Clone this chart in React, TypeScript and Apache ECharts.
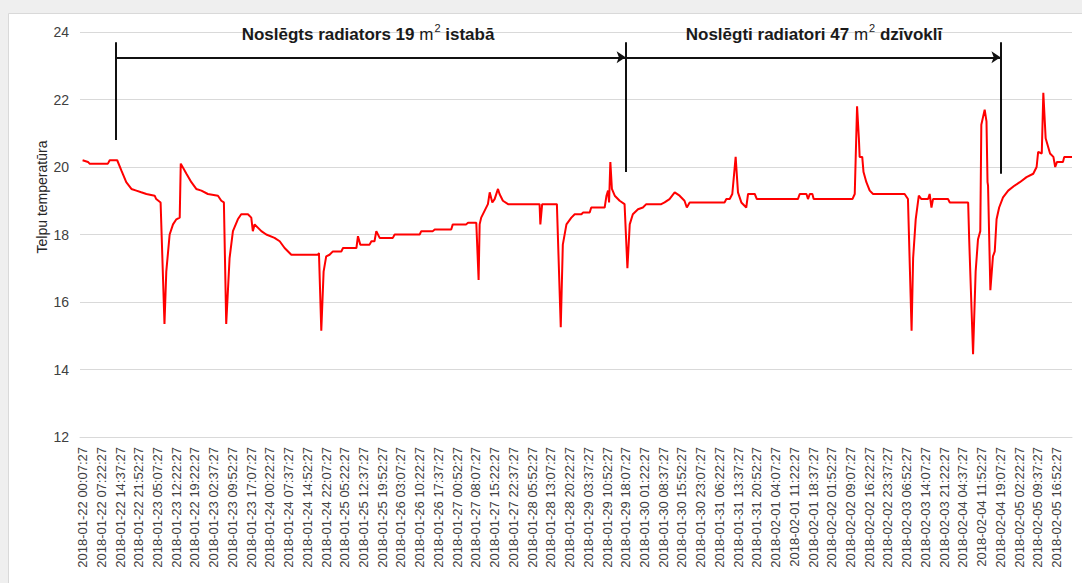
import React, { useEffect, useRef } from "react";
import * as echarts from "echarts";

const xLabels = [
  "2018-01-22 00:07:27", "2018-01-22 07:22:27", "2018-01-22 14:37:27", "2018-01-22 21:52:27",
  "2018-01-23 05:07:27", "2018-01-23 12:22:27", "2018-01-22 19:22:27", "2018-01-23 02:37:27",
  "2018-01-23 09:52:27", "2018-01-23 17:07:27", "2018-01-24 00:22:27", "2018-01-24 07:37:27",
  "2018-01-24 14:52:27", "2018-01-24 22:07:27", "2018-01-25 05:22:27", "2018-01-25 12:37:27",
  "2018-01-25 19:52:27", "2018-01-26 03:07:27", "2018-01-26 10:22:27", "2018-01-26 17:37:27",
  "2018-01-27 00:52:27", "2018-01-27 08:07:27", "2018-01-27 15:22:27", "2018-01-27 22:37:27",
  "2018-01-28 05:52:27", "2018-01-28 13:07:27", "2018-01-28 20:22:27", "2018-01-29 03:37:27",
  "2018-01-29 10:52:27", "2018-01-29 18:07:27", "2018-01-30 01:22:27", "2018-01-30 08:37:27",
  "2018-01-30 15:52:27", "2018-01-30 23:07:27", "2018-01-31 06:22:27", "2018-01-31 13:37:27",
  "2018-01-31 20:52:27", "2018-02-01 04:07:27", "2018-02-01 11:22:27", "2018-02-01 18:37:27",
  "2018-02-02 01:52:27", "2018-02-02 09:07:27", "2018-02-02 16:22:27", "2018-02-02 23:37:27",
  "2018-02-03 06:52:27", "2018-02-03 14:07:27", "2018-02-03 21:22:27", "2018-02-04 04:37:27",
  "2018-02-04 11:52:27", "2018-02-04 19:07:27", "2018-02-05 02:22:27", "2018-02-05 09:37:27",
  "2018-02-05 16:52:27",
];

// hours since 2018-01-22 00:07:27
const hours = [
  0, 2.1, 2.7, 9.8, 10.5, 13.4, 15.0, 16.9, 18.9, 20.8, 22.7, 24.7, 27.9, 28.5, 30.2,
  31.7, 32.4, 33.7, 35.0, 36.3, 37.6, 38.0, 40.2, 42.1, 44.0, 46.0, 48.5, 52.4, 53.7, 54.7,
  55.6, 56.9, 58.2, 60.1, 61.4, 64.0, 65.3, 65.9, 66.6, 69.2, 71.1, 74.3, 76.3, 78.2, 80.8,
  91.1, 91.5, 92.4, 93.3, 94.3, 95.6, 96.9, 100.2, 100.8, 106.0, 106.6, 107.5, 111.1, 111.8, 113.0,
  113.7, 115.0, 120.1, 120.8, 130.5, 131.1, 135.6, 136.3, 142.7, 143.3, 148.5, 149.2, 152.4, 153.3, 153.7,
  154.3, 155.6, 156.9, 157.6, 158.6, 159.5, 160.8, 161.4, 162.7, 164.7, 176.9, 177.2, 177.9, 183.6, 185.1,
  185.9, 187.3, 189.2, 190.5, 193.1, 193.7, 196.3, 196.9, 202.1, 202.8, 203.4, 203.8, 204.3, 204.9, 206.0,
  207.9, 209.8, 210.9, 211.8, 213.0, 215.0, 216.9, 218.2, 224.0, 225.3, 227.2, 229.2, 231.1, 233.0, 233.9,
  235.0, 248.5, 249.2, 250.5, 251.5, 252.8, 253.7, 255.0, 256.9, 257.6, 260.2, 261.0, 276.9, 277.6, 280.2,
  280.8, 281.5, 282.5, 283.0, 298.0, 298.9, 299.8, 300.5, 300.8, 301.8, 302.3, 303.4, 304.7, 306.0, 318.2,
  319.5, 320.9, 321.5, 322.5, 323.7, 324.7, 327.3, 327.9, 328.6, 329.2, 335.0, 335.7, 342.8, 343.2, 344.7,
  345.7, 346.6, 347.5, 347.9, 349.2, 349.9, 350.3, 350.5, 351.4, 352.4, 353.1, 353.8, 354.8, 356.3, 358.3,
  360.8, 362.8, 365.4, 368.0, 369.3, 369.9, 371.3, 371.9, 372.8, 374.5, 375.8, 376.5, 377.2, 379.5, 380.0,
  383.0,
];

const temps = [
  20.2, 20.15, 20.1, 20.1, 20.2, 20.2, 19.9, 19.55, 19.35, 19.3, 19.25, 19.2, 19.15, 19.05, 18.95,
  15.35, 16.9, 18.0, 18.3, 18.45, 18.5, 20.1, 19.8, 19.55, 19.35, 19.3, 19.2, 19.15, 19.0, 18.95,
  15.35, 17.3, 18.1, 18.45, 18.6, 18.6, 18.5, 18.1, 18.3, 18.1, 18.0, 17.9, 17.8, 17.6, 17.4,
  17.4, 17.45, 15.15, 16.9, 17.35, 17.4, 17.5, 17.5, 17.6, 17.6, 17.95, 17.7, 17.7, 17.8, 17.8,
  18.1, 17.9, 17.9, 18.0, 18.0, 18.1, 18.1, 18.15, 18.15, 18.3, 18.3, 18.35, 18.35, 16.65, 18.3,
  18.5, 18.7, 18.9, 19.25, 18.95, 19.05, 19.35, 19.2, 19.0, 18.9, 18.9, 18.3, 18.9, 18.9, 15.25,
  17.7, 18.3, 18.5, 18.6, 18.6, 18.65, 18.65, 18.8, 18.8, 19.15, 19.3, 18.95, 20.15, 19.35, 19.15,
  19.0, 18.9, 17.0, 18.3, 18.6, 18.75, 18.8, 18.9, 18.9, 18.95, 19.05, 19.25, 19.15, 19.0, 18.8,
  18.95, 18.95, 19.05, 19.05, 19.2, 20.3, 19.25, 18.95, 18.8, 19.2, 19.2, 19.05, 19.05, 19.2, 19.2,
  19.05, 19.2, 19.2, 19.05, 19.05, 19.2, 21.8, 20.85, 20.3, 20.3, 19.85, 19.55, 19.3, 19.2, 19.2,
  19.05, 15.15, 17.3, 18.45, 19.15, 19.05, 19.05, 19.2, 18.8, 19.05, 19.05, 18.95, 18.95, 17.85, 14.45,
  16.9, 17.85, 18.1, 21.25, 21.7, 21.35, 19.55, 19.45, 16.35, 17.35, 17.5, 18.45, 18.8, 19.1, 19.3,
  19.45, 19.55, 19.7, 19.8, 20.0, 20.45, 20.4, 22.2, 20.85, 20.4, 20.3, 20.0, 20.15, 20.15, 20.3,
  20.3,
];

const yTicks = [12, 14, 16, 18, 20, 22, 24];
const hoursPerLabel = 7.25;

// annotation positions (hours, °C)
const bracketStarts = [12.7, 210.2];
const bracketEnds = [210.2, 355.3];
const bracketBottoms = [20.8, 19.85, 19.8];
const bracketTop = 23.7;
const arrowLevel = 23.25;

const title1 = "Noslēgts radiators 19 ";
const title1b = " istabā";
const title2 = "Noslēgti radiatori 47 ";
const title2b = " dzīvoklī";

export default function App() {
  const ref = useRef<HTMLDivElement>(null);
  useEffect(() => {
    document.body.style.margin = "0";
    const chart = echarts.init(ref.current!, null, { renderer: "svg" });
    const data = hours.map((h, i) => [h, temps[i]]);
    const tickVals = xLabels.map((_, i) => i * hoursPerLabel);
    const verticalXs = [bracketStarts[0], bracketStarts[1], bracketEnds[1]];
    const markData: any[] = [];
    verticalXs.forEach((x, i) => {
      markData.push([
        { coord: [x, bracketTop], symbol: "none" },
        { coord: [x, bracketBottoms[i]], symbol: "none" },
      ]);
    });
    bracketStarts.forEach((s, i) => {
      markData.push([
        { coord: [s, arrowLevel], symbol: "none" },
        { coord: [bracketEnds[i], arrowLevel], symbol: "arrow" },
      ]);
    });
    const base = { color: "#1a1a1a", fontFamily: "Liberation Sans", lineHeight: 22 };
    const rich = {
      b: { ...base, fontSize: 17, fontWeight: "bold", verticalAlign: "bottom" },
      m: { ...base, fontSize: 17, fontWeight: "normal", verticalAlign: "bottom" },
      s: { ...base, fontSize: 11, fontWeight: "normal", verticalAlign: "top", padding: [1, 0, 0, 1] },
    };
    const mkTitle = (a: string, b: string, cx: number) => ({
      text: `{b|${a}}{m|m}{s|2}{b|${b}}`,
      left: cx,
      top: 21,
      textAlign: "center",
      padding: 0,
      textStyle: { rich, fontSize: 17, color: "#1a1a1a" },
    });
    chart.setOption({
      animation: false,
      backgroundColor: "#efefef",
      title: [mkTitle(title1, title1b, 368), mkTitle(title2, title2b, 814)],
      grid: { left: 80, top: 32, width: 992, height: 405, containLabel: false },
      xAxis: {
        type: "value",
        min: -1,
        max: 383,
        axisLine: { show: true, lineStyle: { color: "#d9d9d9" } },
        axisTick: { show: false },
        splitLine: { show: false },
        axisLabel: {
          customValues: tickVals,
          rotate: 90,
          fontSize: 13,
          fontFamily: "Liberation Sans",
          color: "#404040",
          margin: 10,
          formatter: (v: number) => xLabels[Math.round(v / hoursPerLabel)] ?? "",
        },
      },
      yAxis: {
        type: "value",
        min: yTicks[0],
        max: yTicks[yTicks.length - 1],
        interval: 2,
        axisLine: { show: false },
        axisTick: { show: false },
        splitLine: { lineStyle: { color: "#d9d9d9", width: 1 } },
        axisLabel: { fontSize: 14, fontFamily: "Liberation Sans", color: "#404040", margin: 11 },
      },
      graphic: [
        { type: "rect", z: -10, shape: { x: 8.5, y: 13.5, width: 1080, height: 575 }, style: { fill: "#ffffff", stroke: "#d9d9d9", lineWidth: 1 } },
        {
          type: "text", x: 42, y: 197, rotation: Math.PI / 2,
          style: { text: "Telpu temperatūra", font: "14px 'Liberation Sans'", fill: "#262626", align: "center", verticalAlign: "middle" },
        },
      ],
      series: [
        {
          type: "line",
          data,
          showSymbol: false,
          symbol: "none",
          lineStyle: { color: "#ff0000", width: 2 },
          itemStyle: { color: "#ff0000" },
          z: 3,
          markLine: {
            silent: true,
            symbol: "none",
            symbolSize: 9,
            label: { show: false },
            lineStyle: { color: "#111111", width: 2, type: "solid" },
            emphasis: { disabled: true },
            data: markData,
          },
        },
      ],
    });
    return () => chart.dispose();
  }, []);
  return <div ref={ref} style={{ width: 1082, height: 583 }} />;
}
